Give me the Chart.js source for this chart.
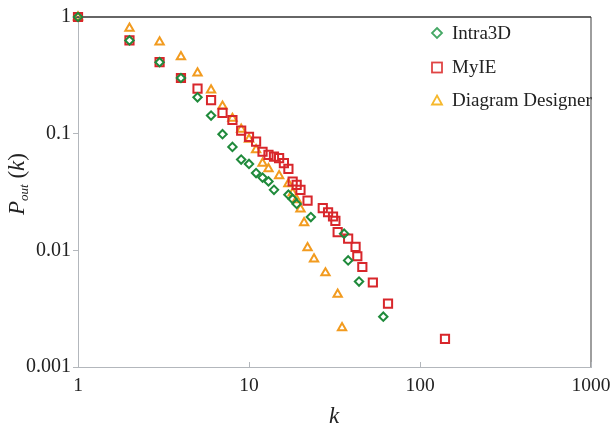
<!DOCTYPE html>
<html><head><meta charset="utf-8">
<script src="https://cdn.jsdelivr.net/npm/chart.js@4"></script>
<style>
html,body{margin:0;padding:0;background:#fff;}
#wrap{position:relative;width:610px;height:427px;overflow:hidden;}
canvas{position:absolute;left:0;top:0;}
.leg{position:absolute;left:430px;height:20px;font-family:'Liberation Serif',serif;font-size:19px;color:#222;white-space:nowrap;line-height:20px;}
.leg svg{position:absolute;left:0;top:3px;}
.leg span{position:absolute;left:22px;top:0;}
#ytitle{position:absolute;left:18px;top:184px;transform:translate(-50%,-50%) rotate(-90deg);font-family:'Liberation Serif',serif;font-size:23px;white-space:nowrap;color:#222;}
#ytitle sub{font-size:13px;vertical-align:-4px;}
#xtitle{position:absolute;left:334px;top:416px;transform:translate(-50%,-50%);font-family:'Liberation Serif',serif;font-size:23px;font-style:italic;color:#222;}
</style>
</head><body>
<div id="wrap">
<canvas id="c" width="610" height="427"></canvas>
<div id="ytitle"><i>P</i><sub><i>out</i></sub> (<i>k</i>)</div>
<div id="xtitle">k</div>
</div>
<script>
const seriesNames = ['Intra3D', 'MyIE', 'Diagram Designer'];

const intraK = [1, 2, 3, 4, 5, 6, 7, 8, 9, 10, 11, 12, 13, 14, 17, 18, 19, 23, 36, 38, 44, 61];
const intraP = [1, 0.63, 0.41, 0.30, 0.205, 0.143, 0.099, 0.077, 0.060, 0.055, 0.046, 0.042, 0.039, 0.033, 0.030, 0.0275, 0.025, 0.0193, 0.0139, 0.0082, 0.0054, 0.0027];

const myieK = [1, 2, 3, 4, 5, 6, 7, 8, 9, 10, 11, 12, 13, 14, 15, 16, 17, 18, 19, 20, 22, 27, 29, 31, 32, 33, 38, 42, 43, 46, 53, 65, 140];
const myieP = [1, 0.63, 0.41, 0.30, 0.243, 0.194, 0.151, 0.131, 0.106, 0.094, 0.0855, 0.070, 0.0657, 0.0636, 0.0616, 0.0558, 0.0499, 0.0389, 0.0364, 0.033, 0.0267, 0.023, 0.0212, 0.0195, 0.0179, 0.0143, 0.0126, 0.0107, 0.0089, 0.0072, 0.0053, 0.0035, 0.00174];

const ddK = [1, 2, 3, 4, 5, 6, 7, 8, 9, 10, 11, 12, 13, 15, 17, 18, 19, 20, 21, 22, 24, 28, 33, 35];
const ddP = [1, 0.80, 0.61, 0.455, 0.33, 0.236, 0.172, 0.135, 0.109, 0.0895, 0.0726, 0.0558, 0.050, 0.0435, 0.0372, 0.031, 0.0271, 0.0226, 0.0172, 0.0105, 0.0084, 0.0064, 0.0042, 0.00217];

const xTicks = [1, 10, 100, 1000];
const xTickLabels = ['1', '10', '100', '1000'];
const yTicks = [0.001, 0.01, 0.1, 1];
const yTickLabels = ['0.001', '0.01', '0.1', '1'];

const pts = (ks, ps) => ks.map((k, i) => ({x: k, y: ps[i]}));

const colors = ['#1f8a3b', '#d8262b', '#f29b1f'];
const legendColors = ['#45a865', '#e04545', '#f6b82c'];
const styles = ['rectRot', 'rect', 'triangle'];
const radii = [4.2, 5.8, 4.8];

const serif = "'Liberation Serif', 'Times New Roman', serif";

const framePlugin = {
  id: 'frame',
  beforeDatasetsDraw(chart) {
    const {ctx, chartArea: a, scales: {x}} = chart;
    ctx.save();
    ctx.strokeStyle = '#6a6a6a'; ctx.lineWidth = 1.3;
    ctx.beginPath(); ctx.moveTo(a.right, a.top); ctx.lineTo(a.right, a.bottom); ctx.stroke();
    ctx.strokeStyle = '#333'; ctx.lineWidth = 1.5;
    ctx.beginPath(); ctx.moveTo(a.left - 4, a.top); ctx.lineTo(a.right, a.top); ctx.stroke();
    ctx.strokeStyle = '#b3b7bc'; ctx.lineWidth = 1;
    xTicks.forEach(v => {
      const px = Math.round(x.getPixelForValue(v)) + 0.5;
      ctx.beginPath(); ctx.moveTo(px, a.bottom); ctx.lineTo(px, a.bottom - 5); ctx.stroke();
    });
    ctx.restore();
  }
};

const datasets = [pts(intraK, intraP), pts(myieK, myieP), pts(ddK, ddP)].map((d, i) => ({
  label: seriesNames[i],
  data: d,
  pointStyle: styles[i],
  pointRadius: radii[i],
  pointHoverRadius: radii[i],
  pointBorderWidth: 2,
  borderColor: colors[i],
  backgroundColor: 'rgba(255,255,255,0)',
  showLine: false,
  clip: false
}));

new Chart(document.getElementById('c'), {
  type: 'scatter',
  data: {datasets},
  plugins: [framePlugin],
  options: {
    responsive: false,
    animation: false,
    devicePixelRatio: 1,
    layout: {padding: {top: 17, right: 19, left: 0, bottom: 0}},
    plugins: {legend: {display: false}, tooltip: {enabled: false}},
    scales: {
      x: {
        type: 'logarithmic', min: 1, max: 1000,
        afterBuildTicks: s => { s.ticks = xTicks.map(v => ({value: v})); },
        afterFit: s => { s.height = 60; s.paddingLeft = 0; s.paddingRight = 0; },
        ticks: {
          callback: v => xTickLabels[xTicks.indexOf(v)],
          font: {family: serif, size: 19.5}, color: '#222', padding: 7,
          maxRotation: 0, autoSkip: false
        },
        grid: {display: true, drawOnChartArea: false, drawTicks: false},
        border: {color: '#b3b7bc', width: 1}
      },
      y: {
        type: 'logarithmic', min: 0.001, max: 1,
        afterBuildTicks: s => { s.ticks = yTicks.map(v => ({value: v})); },
        afterFit: s => { s.width = 78; s.paddingTop = 0; s.paddingBottom = 0; },
        ticks: {
          callback: v => yTickLabels[yTicks.indexOf(v)],
          font: {family: serif, size: 20}, color: '#222', padding: 2
        },
        grid: {display: true, drawOnChartArea: false, drawTicks: true, tickLength: 5, color: '#b3b7bc'},
        border: {color: '#b3b7bc', width: 1}
      }
    }
  }
});

// legend (HTML text)
const legendY = [33, 67, 100];
const svgFor = i => {
  const c = legendColors[i];
  if (i === 0) return `<svg width="14" height="14"><polygon points="7,2 12,7 7,12 2,7" fill="none" stroke="${c}" stroke-width="1.8"/></svg>`;
  if (i === 1) return `<svg width="14" height="14"><rect x="2" y="2.5" width="10" height="10" fill="none" stroke="${c}" stroke-width="1.8"/></svg>`;
  return `<svg width="14" height="14"><polygon points="7,2.5 12,11.5 2,11.5" fill="none" stroke="${c}" stroke-width="1.8"/></svg>`;
};
const wrap = document.getElementById('wrap');
seriesNames.forEach((n, i) => {
  const d = document.createElement('div');
  d.className = 'leg';
  d.style.top = (legendY[i] - 10) + 'px';
  d.innerHTML = svgFor(i) + '<span>' + n + '</span>';
  wrap.appendChild(d);
});
</script>
</body></html>
